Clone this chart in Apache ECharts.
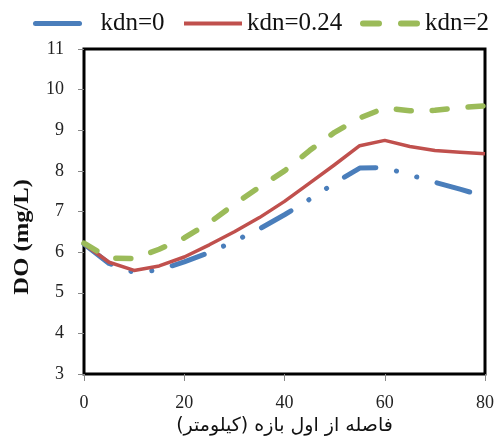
<!DOCTYPE html>
<html>
<head>
<meta charset="utf-8">
<script src="https://cdn.jsdelivr.net/npm/echarts@6/dist/echarts.min.js"></script>
<style>html,body{margin:0;padding:0;background:#fff;}#c{width:497px;height:446px;}</style>
</head>
<body>
<div id="c"></div>
<script>
var distanceKm = [0, 5, 10, 15, 20, 25, 30, 35, 40, 45, 50, 55, 60, 65, 70, 75, 80];
var kdn0 = [6.2, 5.72, 5.5, 5.56, 5.76, 5.99, 6.27, 6.57, 6.92, 7.3, 7.7, 8.07, 8.08, 7.9, 7.72, 7.55, 7.37];
var kdn024 = [6.2, 5.75, 5.55, 5.66, 5.88, 6.18, 6.5, 6.85, 7.25, 7.7, 8.15, 8.62, 8.75, 8.6, 8.5, 8.46, 8.42];
var kdn2 = [6.22, 5.85, 5.84, 6.07, 6.35, 6.72, 7.18, 7.6, 8.0, 8.5, 8.95, 9.3, 9.55, 9.48, 9.49, 9.56, 9.6];
var seriesNames = ['kdn=0', 'kdn=0.24', 'kdn=2'];
var yAxisTitle = 'DO (mg/L)';
var xAxisTitle = 'فاصله از اول بازه (کیلومتر)';

function pairs(vals) { return distanceKm.map(function (x, i) { return [x, vals[i]]; }); }

var chart = echarts.init(document.getElementById('c'), null, { renderer: 'canvas' });
var serif = 'Liberation Serif';
var legendText = { fontFamily: serif, fontSize: 25, color: '#111' };
var hideSym = { opacity: 0 };
chart.setOption({
  animation: false,
  backgroundColor: '#fff',
  grid: { left: 84, right: 10, top: 49, bottom: 72, show: true, borderColor: '#000', borderWidth: 3, backgroundColor: 'transparent' },
  legend: [
    { left: 28, top: 6, itemWidth: 44, itemHeight: 14, selectedMode: false,
      data: [{ name: seriesNames[0], itemStyle: hideSym, lineStyle: { type: 'solid', width: 5, cap: 'round' } }],
      textStyle: Object.assign({ padding: [0, 0, 0, 16] }, legendText) },
    { left: 177, top: 6, itemWidth: 58, itemHeight: 14, selectedMode: false,
      data: [{ name: seriesNames[1], itemStyle: hideSym, lineStyle: { width: 4 } }], textStyle: legendText },
    { left: 355, top: 6, itemWidth: 57, itemHeight: 14, selectedMode: false,
      data: [{ name: seriesNames[2], itemStyle: hideSym, lineStyle: { type: [16, 22], width: 6, cap: 'round' } }], textStyle: legendText }
  ],
  xAxis: {
    type: 'value', min: 0, max: 80, interval: 20,
    name: xAxisTitle, nameLocation: 'middle', nameGap: 41,
    nameTextStyle: { fontFamily: 'DejaVu Sans', fontSize: 19, color: '#111' },
    axisLine: { show: false },
    axisTick: { show: true, length: 7, lineStyle: { color: '#888' } },
    axisLabel: { fontFamily: serif, fontSize: 18, color: '#222', margin: 20 },
    splitLine: { show: false }
  },
  yAxis: {
    type: 'value', min: 3, max: 11, interval: 1,
    axisLine: { show: false },
    axisTick: { show: true, length: 6, lineStyle: { color: '#888' } },
    axisLabel: { fontFamily: serif, fontSize: 18, color: '#222', margin: 20 },
    splitLine: { show: false }
  },
  graphic: [{
    type: 'text', left: 11, top: 179,
    rotation: Math.PI / 2, scaleX: 1.12,
    style: { text: yAxisTitle, font: 'bold 22px "Liberation Serif"', fill: '#111' }
  }],
  series: [
    { name: seriesNames[0], type: 'line', data: pairs(kdn0), showSymbol: false, symbol: 'none',
      lineStyle: { color: '#4a7ebb', width: 5, type: [34, 21, 0.1, 21, 0.1, 21], cap: 'round', join: 'round' },
      itemStyle: { color: '#4a7ebb' } },
    { name: seriesNames[1], type: 'line', data: pairs(kdn024), showSymbol: false, symbol: 'none',
      lineStyle: { color: '#c0504d', width: 3.5, join: 'round' }, itemStyle: { color: '#c0504d' } },
    { name: seriesNames[2], type: 'line', data: pairs(kdn2), showSymbol: false, symbol: 'none',
      lineStyle: { color: '#9bbb59', width: 5.5, type: [15, 21], cap: 'round', join: 'round' },
      itemStyle: { color: '#9bbb59' } }
  ]
});
</script>
</body>
</html>
